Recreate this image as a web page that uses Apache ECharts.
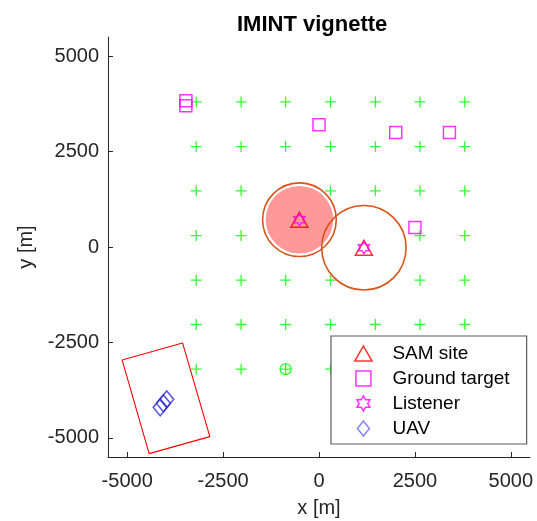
<!DOCTYPE html>
<html>
<head>
<meta charset="utf-8">
<script src="https://cdn.jsdelivr.net/npm/echarts@6/dist/echarts.min.js"></script>
<style>html,body{margin:0;padding:0;background:#fff}#chart{width:537px;height:521px}</style>
</head>
<body>
<div id="chart"></div>
<script>
// ---- data ----
var tickValues = [-5000, -2500, 0, 2500, 5000];
var gridPoints = [
  [-3200, 3800], [-2030, 3800], [-870, 3800], [300, 3800], [1470, 3800], [2630, 3800], [3800, 3800],
  [-3200, 2630], [-2030, 2630], [-870, 2630], [300, 2630], [1470, 2630], [2630, 2630], [3800, 2630],
  [-3200, 1470], [-2030, 1470], [300, 1470], [1470, 1470], [2630, 1470], [3800, 1470],
  [-3200, 300], [-2030, 300], [2630, 300], [3800, 300],
  [-3200, -870], [-2030, -870], [-870, -870], [300, -870], [2630, -870], [3800, -870],
  [-3200, -2030], [-2030, -2030], [-870, -2030], [300, -2030], [1470, -2030], [2630, -2030], [3800, -2030],
  [-3200, -3200], [-2030, -3200], [-870, -3200], [300, -3200], [1470, -3200], [2630, -3200], [3800, -3200]
];
var gridMarked = [[-870, -3200]];
var samSites = [[-510, 715], [1170, -20]];
var listeners = [[-510, 715], [1170, -20]];
var samRings = [[-510, 715, 960], [1170, -20, 1100]];
var samFill = [[-510, 715, 880]];
var groundTargets = [[-3470, 3830], [-3470, 3700], [0, 3200], [2000, 3000], [3400, 3000], [2500, 510]];
var uavs = [[-4140, -4200], [-4055, -4095], [-3970, -3990]];
var uavBox = [[-5133, -2958], [-3557, -2513], [-2845, -4966], [-4428, -5411], [-5133, -2958]];

var FONT = '"Liberation Sans", Arial, Helvetica, sans-serif';
var AX = '#262626';
var plusPath = 'path://M-1,0L1,0M0,-1L0,1';
var triPath = 'path://M0,-1L0.866,0.5L-0.866,0.5Z';
var sqPath = 'path://M-1,-1L1,-1L1,1L-1,1Z';
var hexPath = 'path://M0,-1L-0.2887,-0.5L-0.866,-0.5L-0.577,0L-0.866,0.5L-0.2887,0.5L0,1L0.2887,0.5L0.866,0.5L0.577,0L0.866,-0.5L0.2887,-0.5Z';
var diaPath = 'path://M0,-1L0.8,0L0,1L-0.8,0Z';

function circleRender(fill, stroke, lw) {
  return function (params, api) {
    var c = api.coord([api.value(0), api.value(1)]);
    var r = api.size([api.value(2), 0])[0];
    return {type: 'circle', shape: {cx: c[0], cy: c[1], r: r},
      style: {fill: fill, stroke: stroke, lineWidth: lw}};
  };
}
function plain(v) { return String(v); }

var chart = echarts.init(document.getElementById('chart'));
chart.setOption({
  animation: false,
  backgroundColor: '#fff',
  title: {text: 'IMINT vignette', left: 232, top: 9,
    textStyle: {fontFamily: FONT, fontSize: 22, fontWeight: 'bold', color: '#000'}},
  grid: {left: 108, right: 7, top: 37, bottom: 64, containLabel: false, outerBoundsMode: 'none'},
  xAxis: {type: 'value', min: -5500, max: 5500,
    name: 'x [m]', nameLocation: 'middle', nameGap: 41,
    nameTextStyle: {fontFamily: FONT, fontSize: 20, color: AX},
    axisLine: {show: true, onZero: false, lineStyle: {color: AX, width: 1}},
    axisTick: {show: true, inside: true, length: 5, customValues: tickValues, lineStyle: {color: AX}},
    axisLabel: {customValues: tickValues, formatter: plain, margin: 14, fontFamily: FONT, fontSize: 20, color: AX},
    splitLine: {show: false}},
  yAxis: {type: 'value', min: -5500, max: 5500,
    name: 'y [m]', nameLocation: 'middle', nameGap: 51,
    nameTextStyle: {fontFamily: FONT, fontSize: 20, color: AX},
    axisLine: {show: true, onZero: false, lineStyle: {color: AX, width: 1}},
    axisTick: {show: true, inside: true, length: 5, customValues: tickValues, lineStyle: {color: AX}},
    axisLabel: {customValues: tickValues, formatter: plain, margin: 9, fontFamily: FONT, fontSize: 20, color: AX},
    splitLine: {show: false}},
  legend: {
    orient: 'vertical', left: 331, top: 336,
    padding: [8, 17, 6, 23], itemGap: 6, itemWidth: 48, itemHeight: 15,
    backgroundColor: '#fff', borderColor: '#5a5a5a', borderWidth: 1.2, borderRadius: 0,
    textStyle: {fontFamily: FONT, fontSize: 19, color: '#000', lineHeight: 19},
    itemStyle: {borderWidth: 1.5},
    z: 10,
    data: [
      {name: 'SAM site', icon: triPath, itemStyle: {color: 'rgba(0,0,0,0)', borderColor: '#FF0000', borderWidth: 1.5}},
      {name: 'Ground target', icon: sqPath, itemStyle: {color: 'rgba(0,0,0,0)', borderColor: '#FF00FF', borderWidth: 1.5}},
      {name: 'Listener', icon: hexPath, itemStyle: {color: 'rgba(0,0,0,0)', borderColor: '#FF00FF', borderWidth: 1.5}},
      {name: 'UAV', icon: diaPath, itemStyle: {color: 'rgba(0,0,0,0)', borderColor: '#6666FF', borderWidth: 1.5}}
    ]
  },
  series: [
    {name: 'grid', type: 'scatter', data: gridPoints, symbol: plusPath, symbolSize: 11, z: 1,
      itemStyle: {color: 'rgba(0,0,0,0)', borderColor: '#00FF00', borderWidth: 1.3}, silent: true},
    {name: 'gridMarked', type: 'scatter', data: gridMarked, symbol: 'circle', symbolSize: 11, z: 1,
      itemStyle: {color: 'rgba(0,0,0,0)', borderColor: '#00FF00', borderWidth: 1.3}, silent: true},
    {name: 'samFill', type: 'custom', data: samFill, z: 2, renderItem: circleRender('#FF9999', null, 0),
      encode: {x: 0, y: 1}, silent: true},
    {name: 'samRing', type: 'custom', data: samRings, z: 3, renderItem: circleRender(null, '#D95319', 1.6),
      encode: {x: 0, y: 1}, silent: true},
    {name: 'uavBox', type: 'line', data: uavBox, z: 3, symbol: 'none', silent: true,
      lineStyle: {color: '#FF0000', width: 1.1}},
    {name: 'Ground target', type: 'scatter', data: groundTargets, symbol: sqPath, symbolSize: 12, z: 4,
      itemStyle: {color: 'rgba(0,0,0,0)', borderColor: '#FF00FF', borderWidth: 1.5}},
    {name: 'SAM site', type: 'scatter', data: samSites, symbol: triPath, symbolSize: [17, 15], z: 4,
      itemStyle: {color: 'rgba(0,0,0,0)', borderColor: '#FF0000', borderWidth: 1.5}},
    {name: 'Listener', type: 'scatter', data: listeners, symbol: hexPath, symbolSize: [11, 12], z: 5,
      itemStyle: {color: 'rgba(0,0,0,0)', borderColor: '#FF00FF', borderWidth: 1.5}},
    {name: 'UAV', type: 'scatter', data: uavs, symbol: diaPath, symbolSize: [14, 17], z: 4,
      itemStyle: {color: 'rgba(0,0,0,0)', borderColor: '#2B2BCC', borderWidth: 1.5}}
  ]
});
</script>
</body>
</html>
